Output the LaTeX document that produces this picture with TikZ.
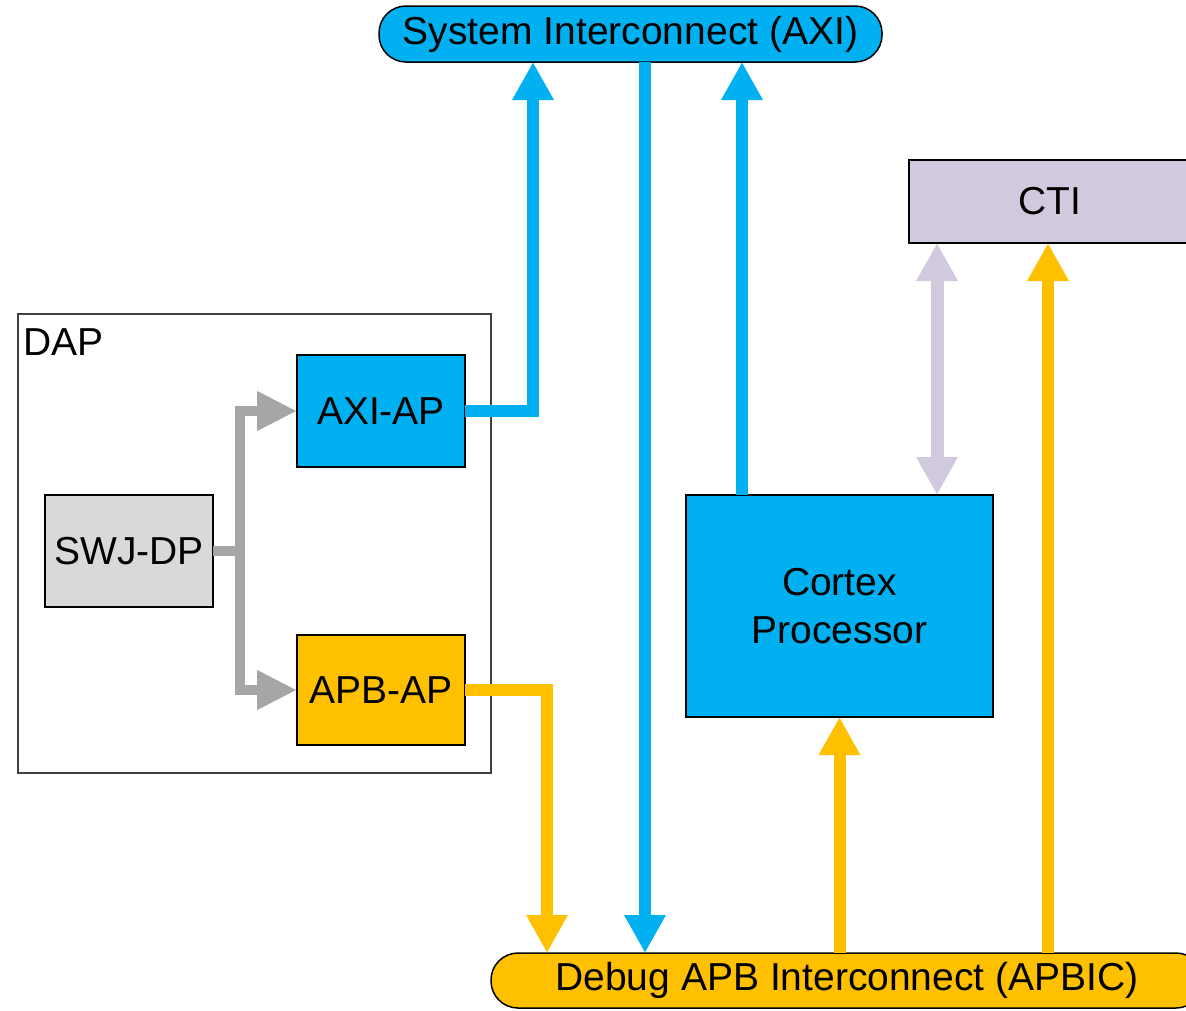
\documentclass[tikz,border=0pt]{standalone}
\usepackage{fontspec}
\setmainfont{Liberation Sans}
\usetikzlibrary{arrows.meta}
\definecolor{axiblue}{HTML}{00B0F0}
\definecolor{apbyellow}{HTML}{FFC000}
\definecolor{swjgray}{HTML}{D9D9D9}
\definecolor{ctilav}{HTML}{D1CADF}
\definecolor{conngray}{HTML}{A6A6A6}
\begin{document}
\begin{tikzpicture}[x=1pt,y=-1pt,
  font=\fontsize{39}{48}\selectfont,
  box/.style={draw=black, line width=1.5pt, inner sep=0pt, outer sep=0pt, rectangle},
  pill/.style={box, rounded corners=27pt},
  bus/.style={line width=12pt, line join=miter, -{Triangle[width=39pt,length=38pt]}},
  busboth/.style={line width=13pt, {Triangle[width=39pt,length=38pt]}-{Triangle[width=39pt,length=38pt]}},
  grayconn/.style={conngray, line width=10pt, line join=miter, -{Triangle[width=37pt,length=40pt]}}]
\useasboundingbox (0,0) rectangle (1186,1010);
\clip (0,0) rectangle (1186,1010);

% nodes
\node[pill, fill=axiblue, minimum width=503pt, minimum height=56pt] (sys) at (630.5,34) {System Interconnect (AXI)};
\node[pill, fill=apbyellow, minimum width=712pt, minimum height=55pt] (dbg) at (847,980.5) {Debug APB Interconnect (APBIC)};
\node[box, fill=ctilav, minimum width=282pt, minimum height=83pt] (cti) at (1050,201.5) {CTI};
\node[box, draw=black!75, line width=1.8pt, minimum width=473pt, minimum height=459pt] (dap) at (254.5,543.5) {};
\node[anchor=base west, inner sep=0pt] (daplbl) at (23,355) {DAP};
\node[box, fill=axiblue, minimum width=168pt, minimum height=112pt] (axiap) at (381,411) {AXI-AP};
\node[box, fill=apbyellow, minimum width=168pt, minimum height=110pt] (apbap) at (381,690) {APB-AP};
\node[box, fill=swjgray, minimum width=168pt, minimum height=112pt] (swj) at (129,551) {SWJ-DP};
\node[box, fill=axiblue, minimum width=307pt, minimum height=222pt, align=center] (cortex) at (839.5,606) {Cortex\\Processor};

% x positions of vertical connectors
\coordinate (xj) at (240,0);
\coordinate (xa) at (533,0);
\coordinate (xb) at (547,0);
\coordinate (xc) at (645,0);
\coordinate (xd) at (742,0);
\coordinate (xe) at (937,0);
\coordinate (xf) at (1048,0);

% gray connectors inside DAP
\draw[grayconn] (swj.east) -- (xj |- swj.east) |- (axiap.west);
\draw[grayconn] (swj.east) -- (xj |- swj.east) |- (apbap.west);

% blue connectors
\draw[bus, axiblue] (axiap.east) -| (xa |- sys.south);
\draw[bus, axiblue] (xc |- sys.south) -- (xc |- dbg.north);
\draw[bus, axiblue] (xd |- cortex.north) -- (xd |- sys.south);

% yellow connectors
\draw[bus, apbyellow] (apbap.east) -| (xb |- dbg.north);
\draw[bus, apbyellow] (cortex.south |- dbg.north) -- (cortex.south);
\draw[bus, apbyellow] (xf |- dbg.north) -- (xf |- cti.south);

% lavender double arrow
\draw[busboth, ctilav] (xe |- cti.south) -- (xe |- cortex.north);
\end{tikzpicture}
\end{document}
